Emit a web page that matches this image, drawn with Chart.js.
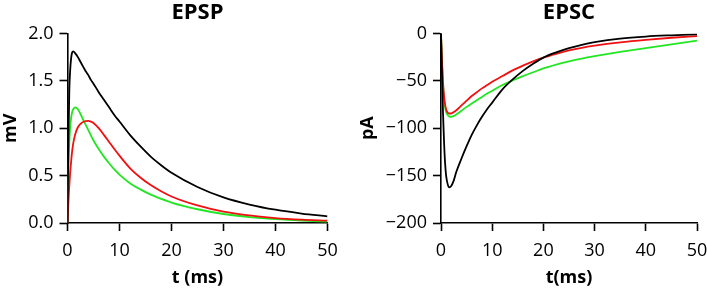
<!DOCTYPE html>
<html>
<head>
<meta charset="utf-8">
<script src="https://cdn.jsdelivr.net/npm/chart.js@4.4.1/dist/chart.umd.min.js"></script>
<style>
  html, body { margin: 0; padding: 0; background: #fff; }
  #wrap { position: relative; width: 707px; height: 289px; overflow: hidden; }
  .box { position: absolute; top: 0; height: 289px; width: 354px; }
  #b1 { left: 0; }
  #b2 { left: 353px; }
</style>
</head>
<body>
<div id="wrap">
  <div class="box" id="b1"><canvas id="c1" width="354" height="289"></canvas></div>
  <div class="box" id="b2"><canvas id="c2" width="354" height="289"></canvas></div>
</div>
<script>
// ---------- EPSP (left) ----------
const epspTitle = 'EPSP';
const epspYLabel = 'mV';
const epspXLabel = 't (ms)';
const epspT = [0, 0.1, 0.2, 0.35, 0.5, 0.7, 0.9, 1.1, 1.5, 2, 2.5, 3, 3.5, 4, 4.5, 5, 6, 7, 8, 9, 10, 12, 14, 16, 18, 20, 25, 30, 35, 40, 45, 50];
const epspBlack = [0, 0.5, 0.95, 1.4, 1.6, 1.74, 1.8, 1.81, 1.79, 1.75, 1.70, 1.65, 1.60, 1.56, 1.51, 1.47, 1.38, 1.30, 1.22, 1.14, 1.07, 0.93, 0.81, 0.70, 0.61, 0.53, 0.38, 0.27, 0.195, 0.14, 0.10, 0.07];
const epspRed = [0, 0.13, 0.25, 0.40, 0.52, 0.65, 0.76, 0.84, 0.94, 1.01, 1.045, 1.065, 1.075, 1.077, 1.07, 1.055, 1.0, 0.93, 0.855, 0.78, 0.71, 0.58, 0.48, 0.40, 0.335, 0.28, 0.185, 0.12, 0.08, 0.052, 0.035, 0.025];
const epspGreen = [0, 0.35, 0.62, 0.85, 1.0, 1.11, 1.17, 1.2, 1.22, 1.2, 1.15, 1.09, 1.035, 0.98, 0.925, 0.87, 0.78, 0.70, 0.63, 0.565, 0.51, 0.42, 0.355, 0.30, 0.255, 0.215, 0.145, 0.095, 0.062, 0.04, 0.025, 0.015];
const epspYTicks = [0, 0.5, 1.0, 1.5, 2.0];

// ---------- EPSC (right) ----------
const epscTitle = 'EPSC';
const epscYLabel = 'pA';
const epscXLabel = 't(ms)';
const epscT = [0, 0.2, 0.4, 0.6, 0.8, 1.0, 1.3, 1.6, 2.0, 2.5, 3, 4, 5, 6, 7, 8, 9, 10, 12, 14, 16, 18, 20, 22.5, 25, 27.5, 30, 35, 40, 45, 50];
const epscBlack = [0, -45, -85, -115, -137, -150, -159, -162.5, -161, -155, -146, -132, -119, -107, -97, -88, -80, -73, -59, -48.5, -39.5, -32, -25.5, -20, -15.5, -12, -9.3, -5.5, -3.3, -2, -1];
const epscRed = [0, -30, -52, -66, -75, -80, -83.5, -84.5, -84.5, -83, -81, -76, -71, -66, -62, -58, -54.5, -51, -45, -39, -34, -29.5, -25.5, -21.5, -18, -15.2, -13, -9.5, -6.8, -4.6, -2.8];
const epscGreen = [0, -32, -55, -69, -78, -83, -86, -87.5, -88, -87, -85.5, -81.5, -77.5, -74, -70.5, -67, -63.5, -60.5, -54.5, -49.5, -45, -41, -37, -33, -29.5, -26.5, -24, -19.5, -15.5, -11.5, -7.7];
const epscYTicks = [-200, -150, -100, -50, 0];

const xTicks = [0, 10, 20, 30, 40, 50];

const FONT = "'Open Sans', 'DejaVu Sans', sans-serif";
const BLACK = '#000000';
const RED = '#f01010';
const GREEN = '#22e622';

function toPts(t, v) { return t.map((x, i) => ({ x: x, y: v[i] })); }

function ds(t, v, color) {
  return {
    data: toPts(t, v),
    borderColor: color,
    borderWidth: 1.8,
    pointRadius: 0,
    fill: false,
    cubicInterpolationMode: 'monotone'
  };
}

function makeChart(canvasId, cfg) {
  const axisCommon = {
    border: { display: true, color: '#000', width: 1.6 },
    grid: { display: true, drawOnChartArea: false, drawTicks: true, tickLength: 8, tickColor: '#000', tickWidth: 1.6 },
  };
  return new Chart(document.getElementById(canvasId), {
    type: 'line',
    data: {
      datasets: [
        ds(cfg.t, cfg.black, BLACK),
        ds(cfg.t, cfg.red, RED),
        ds(cfg.t, cfg.green, GREEN)
      ]
    },
    options: {
      responsive: false,
      animation: false,
      devicePixelRatio: 1,
      layout: { padding: { left: 0, right: cfg.padRight, top: 0, bottom: 0 } },
      plugins: {
        legend: { display: false },
        tooltip: { enabled: false },
        title: {
          display: true,
          text: cfg.title,
          fullSize: false,
          color: '#000',
          font: { family: FONT, size: 22, weight: 'bold' },
          padding: { top: 0, bottom: 7 }
        }
      },
      scales: {
        x: Object.assign({}, axisCommon, {
          type: 'linear',
          min: 0, max: 50,
          afterBuildTicks: (s) => { s.ticks = xTicks.map(v => ({ value: v })); },
          afterFit: (s) => { s.height = 66; s.paddingLeft = 0; s.paddingRight = 0; },
          ticks: { color: '#000', font: { family: FONT, size: 18 }, padding: 9, maxRotation: 0 },
          title: { display: true, text: cfg.xLabel, color: '#000', font: { family: FONT, size: 18, weight: 'bold' }, padding: { top: 0, bottom: 0 } }
        }),
        y: Object.assign({}, axisCommon, {
          type: 'linear',
          min: cfg.yMin, max: cfg.yMax,
          afterBuildTicks: (s) => { s.ticks = cfg.yTicks.map(v => ({ value: v })); },
          afterFit: (s) => { s.width = cfg.yWidth; },
          ticks: {
            color: '#000', font: { family: FONT, size: 18 }, padding: 6,
            callback: cfg.fmt
          },
          title: { display: true, text: cfg.yLabel, color: '#000', font: { family: FONT, size: 18, weight: 'bold' }, padding: { top: cfg.yTitlePad, bottom: 0 } }
        })
      }
    }
  });
}

makeChart('c1', {
  t: epspT, black: epspBlack, red: epspRed, green: epspGreen,
  title: epspTitle, xLabel: epspXLabel, yLabel: epspYLabel,
  yMin: 0, yMax: 2, yTicks: epspYTicks, yWidth: 67.5, padRight: 26.5, yTitlePad: 0,
  fmt: (v) => Number(v).toFixed(1)
});

makeChart('c2', {
  t: epscT, black: epscBlack, red: epscRed, green: epscGreen,
  title: epscTitle, xLabel: epscXLabel, yLabel: epscYLabel,
  yMin: -200, yMax: 0, yTicks: epscYTicks, yWidth: 88, padRight: 10, yTitlePad: 4,
  fmt: (v) => String(v).replace('-', '\u2212')
});
</script>
</body>
</html>
